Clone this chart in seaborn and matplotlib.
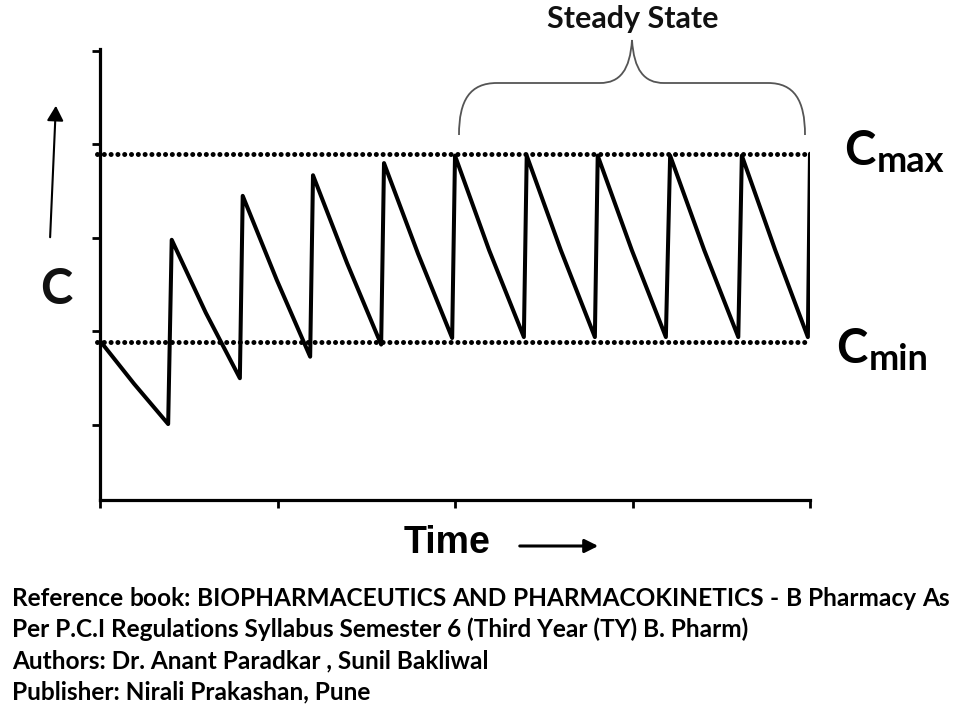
import matplotlib
matplotlib.use("Agg")
import matplotlib.pyplot as plt
import seaborn as sns
from matplotlib.path import Path
from matplotlib.patches import PathPatch, FancyArrowPatch

# ---------------- data ----------------
time = [0.00, 0.48, 0.96, 1.01, 1.49, 1.97, 2.01, 2.49, 2.96, 3.00, 3.48,
        3.96, 4.00, 4.48, 4.96, 5.00, 5.48, 5.97, 6.01, 6.49, 6.97, 7.01,
        7.49, 7.97, 8.03, 8.51, 8.99, 9.04, 9.51, 9.97, 10.00]
conc = [1.90, 1.44, 1.01, 2.98, 2.20, 1.50, 3.45, 2.55, 1.73, 3.67, 2.73,
        1.86, 3.80, 2.83, 1.93, 3.88, 2.87, 1.94, 3.88, 2.87, 1.94, 3.88,
        2.87, 1.94, 3.88, 2.87, 1.94, 3.88, 2.87, 1.94, 3.90]
c_max = 3.90
c_min = 1.89
ref_span = [-0.04, 10.0]
x_ticks = [0, 2.5, 5, 7.5, 10]
y_ticks = [1, 2, 3, 4, 5]

title_text = "Steady State"
cmax_main, cmax_sub = "C", "max"
cmin_main, cmin_sub = "C", "min"
y_label = "C"
x_label = "Time"
footer_lines = [
    "Reference book: BIOPHARMACEUTICS AND PHARMACOKINETICS - B Pharmacy As",
    "Per P.C.I Regulations Syllabus Semester 6 (Third Year (TY) B. Pharm)",
    "Authors: Dr. Anant Paradkar , Sunil Bakliwal",
    "Publisher: Nirali Prakashan, Pune",
]

# ---------------- style ----------------
sns.set_style("ticks")
plt.rcParams["font.family"] = ["Lato", "DejaVu Sans"]

W, H = 960, 720
fig = plt.figure(figsize=(W / 100, H / 100), dpi=100)
fig.patch.set_facecolor("white")


def P(x, y):
    """pixel (from top-left) -> figure fraction"""
    return x / W, 1 - y / H


ax = fig.add_axes([100 / W, 1 - 500 / H, 710 / W, 451 / H])
ax.set_facecolor("white")

sns.lineplot(x=time, y=conc, sort=False, estimator=None, color="black",
             linewidth=2.9, ax=ax)
for level in (c_max, c_min):
    ax.plot(ref_span, [level, level], color="black", linewidth=3.6,
            linestyle=(0, (0.01, 1.35)), dash_capstyle="round", clip_on=False,
            zorder=3)

ax.set_xlim(0, 10)
ax.set_ylim(0.198, 5.02)
ax.set_xticks(x_ticks)
ax.set_yticks(y_ticks)
ax.set_xticklabels([])
ax.set_yticklabels([])
ax.tick_params(length=6, width=2, color="black", direction="out")
for s in ("top", "right"):
    ax.spines[s].set_visible(False)
for s in ("left", "bottom"):
    ax.spines[s].set_linewidth(2.3)
    ax.spines[s].set_color("black")

# ---------------- steady state brace ----------------
bp = [(459, 135), (459, 100), (470, 83), (497, 83), (600, 83),
      (620, 83), (630, 70), (632, 40), (634, 70), (644, 83), (664, 83),
      (768, 83), (794, 83), (805, 100), (805, 135)]
codes = [Path.MOVETO, Path.CURVE4, Path.CURVE4, Path.CURVE4, Path.LINETO,
         Path.CURVE4, Path.CURVE4, Path.CURVE4, Path.CURVE4, Path.CURVE4,
         Path.CURVE4, Path.LINETO, Path.CURVE4, Path.CURVE4, Path.CURVE4]
brace = PathPatch(Path([P(*p) for p in bp], codes), transform=fig.transFigure,
                  facecolor="none", edgecolor="#555555", linewidth=1.3)
fig.patches.append(brace)

fig.text(*P(633, 28), title_text, ha="center", va="baseline",
         fontsize=22, fontweight="bold", color="#111111")

# ---------------- Cmax / Cmin labels ----------------
fig.text(*P(844, 165), cmax_main, ha="left", va="baseline", fontsize=34,
         fontweight="bold", color="black")
fig.text(*P(877, 172), cmax_sub, ha="left", va="baseline", fontsize=26,
         fontweight="bold", color="black")
fig.text(*P(836, 363), cmin_main, ha="left", va="baseline", fontsize=34,
         fontweight="bold", color="black")
fig.text(*P(869, 370), cmin_sub, ha="left", va="baseline", fontsize=26,
         fontweight="bold", color="black")

# ---------------- axis labels and arrows ----------------
fig.text(*P(40, 304), y_label, ha="left", va="baseline", fontsize=35,
         fontweight="bold", color="#111111")
fig.patches.append(FancyArrowPatch(P(50, 240), P(56, 103),
                                   transform=fig.transFigure,
                                   arrowstyle="-|>,head_length=9,head_width=5",
                                   color="black", linewidth=1.5))

fig.text(*P(404, 553), x_label, ha="left", va="baseline", fontsize=27,
         fontweight="bold", family=["Liberation Sans", "DejaVu Sans"],
         color="black")
fig.patches.append(FancyArrowPatch(P(517, 546), P(601, 546),
                                   transform=fig.transFigure,
                                   arrowstyle="-|>,head_length=8,head_width=4",
                                   color="black", linewidth=2.2))

# ---------------- footer ----------------
foot_size = 17.6
baselines = [606, 637, 668, 699]
renderer = fig.canvas.get_renderer()

# first line: fully justified between x=12 and x=950
words = footer_lines[0].split()
wtexts = [fig.text(0, 0, w, fontsize=foot_size, fontweight="bold",
                   va="baseline", ha="left", color="black") for w in words]
widths = [t.get_window_extent(renderer).width for t in wtexts]
gap = (950 - 12 - sum(widths)) / (len(words) - 1)
x = 12
for t, w in zip(wtexts, widths):
    t.set_position(P(x, baselines[0]))
    x += w + gap

for line, yb in zip(footer_lines[1:], baselines[1:]):
    fig.text(*P(12, yb), line, ha="left", va="baseline", fontsize=foot_size,
             fontweight="bold", color="black")

fig.savefig("out.png", dpi=100, facecolor="white")
